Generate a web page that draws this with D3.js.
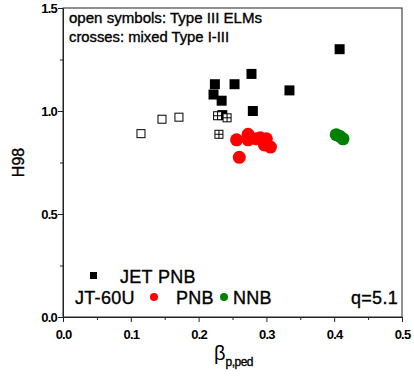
<!DOCTYPE html>
<html>
<head>
<meta charset="utf-8">
<script src="https://cdn.jsdelivr.net/npm/d3@7"></script>
<style>
  body { margin: 0; background: #fff; }
  text { font-family: "Liberation Sans", Arial, sans-serif; fill: #000; }
  .heavy { stroke: #000; stroke-width: 0.35px; }
</style>
</head>
<body>
<svg id="chart" width="414" height="379"></svg>
<script>
// JET PNB, filled squares
const jetBeta = [0.408, 0.278, 0.224, 0.253, 0.334, 0.222, 0.234, 0.280, 0.235];
const jetH98 = [1.30, 1.18, 1.13, 1.13, 1.10, 1.08, 1.05, 1.00, 0.98];
// JET type III ELMs, open squares
const openBeta = [0.115, 0.146, 0.171];
const openH98 = [0.89, 0.96, 0.97];
// JET mixed type I-III, crossed squares
const crossBeta = [0.228, 0.242, 0.230];
const crossH98 = [0.977, 0.967, 0.887];
// JT-60U PNB
const pnbBeta = [0.256, 0.273, 0.273, 0.285, 0.291, 0.300, 0.297, 0.306, 0.260];
const pnbH98 = [0.860, 0.887, 0.860, 0.865, 0.870, 0.865, 0.835, 0.825, 0.775];
// JT-60U NNB
const nnbBeta = [0.403, 0.408, 0.413];
const nnbH98 = [0.885, 0.878, 0.865];

const xTicks = [0.0, 0.1, 0.2, 0.3, 0.4, 0.5];
const yTicks = [0.0, 0.5, 1.0, 1.5];

const margin = { top: 8, right: 12, bottom: 62, left: 63 };
const width = 414, height = 379;

const svg = d3.select("#chart");

const x = d3.scaleLinear().domain([0, 0.5]).range([margin.left, width - margin.right]);
const y = d3.scaleLinear().domain([0, 1.5]).range([height - margin.bottom, margin.top]);

const zip = (xs, ys) => xs.map((v, i) => ({ x: v, y: ys[i] }));

// frame
svg.append("rect")
  .attr("x", x(0)).attr("y", y(1.5))
  .attr("width", x(0.5) - x(0)).attr("height", y(0) - y(1.5))
  .attr("fill", "none").attr("stroke", "#222").attr("stroke-width", 1);

// axes
const xAxis = svg.append("g")
  .attr("transform", `translate(0,${y(0)})`)
  .call(d3.axisBottom(x).tickValues(xTicks).tickFormat(d3.format(".1f")).tickSize(5).tickSizeOuter(0));
svg.append("g")
  .attr("transform", `translate(0,${y(0)})`)
  .call(d3.axisBottom(x).tickValues([0.05, 0.15, 0.25, 0.35, 0.45]).tickFormat("").tickSize(3).tickSizeOuter(0));
const yAxis = svg.append("g")
  .attr("transform", `translate(${x(0)},0)`)
  .call(d3.axisLeft(y).tickValues(yTicks).tickFormat(d3.format(".1f")).tickSize(5).tickSizeOuter(0));
svg.append("g")
  .attr("transform", `translate(${x(0)},0)`)
  .call(d3.axisLeft(y).tickValues([0.25, 0.75, 1.25]).tickFormat("").tickSize(3).tickSizeOuter(0));

svg.selectAll(".domain").attr("stroke", "#222");
svg.selectAll(".tick line").attr("stroke", "#222");
svg.selectAll(".tick text")
  .style("font-size", "13px").style("font-weight", "bold").style("letter-spacing", "-0.8px").attr("fill", "#000");
xAxis.selectAll(".tick text").attr("dy", "1.05em");
yAxis.selectAll(".tick text").attr("x", -6);

// axis titles
svg.append("text").classed("heavy", true)
  .attr("transform", `translate(24,${(y(0) + y(1.5)) / 2}) rotate(-90)`)
  .attr("text-anchor", "middle")
  .style("font-size", "16px")
  .text("H98");

const xt = svg.append("text")
  .attr("x", 214).attr("y", 360)
  .style("font-size", "20px");
xt.append("tspan").text("β");
xt.append("tspan").attr("dy", 6).attr("class", "heavy").style("font-size", "12px").style("letter-spacing", "-0.5px").text("p,ped");

// annotation
svg.append("text").classed("heavy", true).attr("x", 69).attr("y", 23)
  .attr("textLength", 193).attr("lengthAdjust", "spacingAndGlyphs")
  .style("font-size", "15px").text("open symbols: Type III ELMs");
svg.append("text").classed("heavy", true).attr("x", 69).attr("y", 42)
  .attr("textLength", 160).attr("lengthAdjust", "spacingAndGlyphs")
  .style("font-size", "15px").text("crosses: mixed Type I-III");

// markers
const plot = svg.append("g");

plot.selectAll(".jet").data(zip(jetBeta, jetH98)).enter()
  .append("rect").classed("jet", true)
  .attr("x", (d) => x(d.x) - 5).attr("y", (d) => y(d.y) - 5)
  .attr("width", 10).attr("height", 10).attr("fill", "#000");

plot.selectAll(".open").data(zip(openBeta, openH98)).enter()
  .append("rect").classed("open", true)
  .attr("x", (d) => x(d.x) - 4).attr("y", (d) => y(d.y) - 4)
  .attr("width", 8).attr("height", 8)
  .attr("fill", "#fff").attr("stroke", "#000").attr("stroke-width", 1);

const cross = plot.selectAll(".cross").data(zip(crossBeta, crossH98)).enter()
  .append("g").classed("cross", true)
  .attr("transform", (d) => `translate(${x(d.x)},${y(d.y)})`);
cross.append("rect").attr("x", -4).attr("y", -4).attr("width", 8).attr("height", 8)
  .attr("fill", "#fff").attr("stroke", "#000").attr("stroke-width", 1);
cross.append("line").attr("x1", -4).attr("x2", 4).attr("y1", 0).attr("y2", 0).attr("stroke", "#000");
cross.append("line").attr("x1", 0).attr("x2", 0).attr("y1", -4).attr("y2", 4).attr("stroke", "#000");

plot.selectAll(".pnb").data(zip(pnbBeta, pnbH98)).enter()
  .append("circle").classed("pnb", true)
  .attr("cx", (d) => x(d.x)).attr("cy", (d) => y(d.y)).attr("r", 6.5)
  .attr("fill", "#ff0000");

plot.selectAll(".nnb").data(zip(nnbBeta, nnbH98)).enter()
  .append("circle").classed("nnb", true)
  .attr("cx", (d) => x(d.x)).attr("cy", (d) => y(d.y)).attr("r", 6.5)
  .attr("fill", "#008000");

// legend
const leg = svg.append("g");
const legText = (tx, ty, s, anchor) => leg.append("text").classed("heavy", true)
  .attr("x", tx).attr("y", ty).attr("text-anchor", anchor || "start")
  .style("font-size", "18px").style("letter-spacing", "0.3px").text(s);
leg.append("rect").attr("x", 90).attr("y", 272).attr("width", 7).attr("height", 7).attr("fill", "#000");
legText(120, 283, "JET PNB");
legText(75, 304, "JT-60U");
leg.append("circle").attr("cx", 154).attr("cy", 297).attr("r", 4).attr("fill", "#ff0000");
legText(176, 304, "PNB");
leg.append("circle").attr("cx", 224).attr("cy", 297).attr("r", 4).attr("fill", "#008000");
legText(233, 304, "NNB");
legText(398, 304, "q=5.1", "end");
</script>
</body>
</html>
